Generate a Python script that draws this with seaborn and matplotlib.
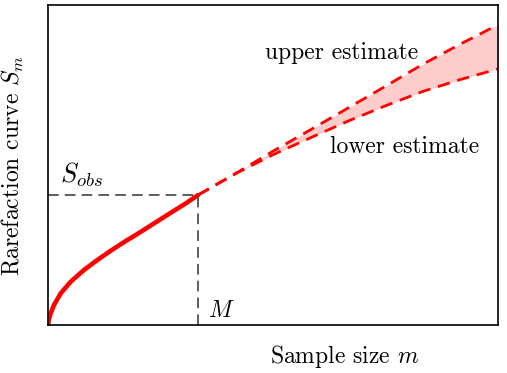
import pandas as pd
import matplotlib
matplotlib.use("Agg")
import matplotlib.pyplot as plt
import seaborn as sns

obs_x = [0.0, 0.006, 0.018, 0.04, 0.085, 0.151, 0.24, 0.329, 0.418, 0.5,
         0.591, 0.702, 0.813, 0.925, 1.0]
obs_y = [0.0, 0.018, 0.0366, 0.0625, 0.099, 0.135, 0.172, 0.203, 0.232, 0.257,
         0.283, 0.316, 0.349, 0.382, 0.406]

# extrapolated estimates
ext_x = [1.0, 1.25, 1.5, 1.75, 2.0, 2.25, 2.5, 2.75, 3.0]
upper_y = [0.406, 0.473, 0.543, 0.610, 0.678, 0.746, 0.815, 0.878, 0.938]
lower_y = [0.406, 0.473, 0.532, 0.585, 0.637, 0.685, 0.730, 0.767, 0.800]

M = 1.0
S_obs = 0.406

sns.set_style("white")
plt.rcParams['font.family'] = ['cmr10', 'DejaVu Serif']
plt.rcParams['mathtext.fontset'] = 'cm'
plt.rcParams['axes.unicode_minus'] = False
plt.rcParams['text.color'] = 'black'
plt.rcParams['axes.labelcolor'] = 'black'

obs = pd.DataFrame({'m': obs_x, 'S': obs_y})
ext = pd.DataFrame({'m': ext_x, 'upper': upper_y, 'lower': lower_y})

fig = plt.figure(figsize=(5.07, 3.73), dpi=100)
ax = fig.add_axes([0.0947, 0.1287, 0.8875, 0.858])

ax.fill_between(ext['m'], ext['lower'], ext['upper'], color='#ffcccc', lw=0)
sns.lineplot(data=obs, x='m', y='S', color='red', lw=3.3, ax=ax)
sns.lineplot(data=ext, x='m', y='upper', color='red', lw=2, ax=ax,
             linestyle=(0, (4.5, 2.8)))
sns.lineplot(data=ext, x='m', y='lower', color='red', lw=2, ax=ax,
             linestyle=(0, (4.5, 2.8)))

ax.plot([0, M], [S_obs, S_obs], color='#333333', lw=1.1, linestyle=(0, (7, 4)))
ax.plot([M, M], [0, S_obs], color='#333333', lw=1.1, linestyle=(0, (7, 4)))

fs = 17
ax.text(0.08, 0.444, r'$S_{obs}$', fontsize=19, ha='left', va='baseline')
ax.text(1.067, 0.025, r'$M$', fontsize=fs, ha='left', va='baseline')
ax.text(1.447, 0.831, 'upper estimate', fontsize=fs, ha='left', va='baseline')
ax.text(1.88, 0.5375, 'lower estimate', fontsize=fs, ha='left', va='baseline')

ax.set_xlim(0, 3)
ax.set_ylim(0, 1)
ax.set_xticks([])
ax.set_yticks([])
ax.set_xlabel(r'Sample size $m$', fontsize=fs)
ax.xaxis.set_label_coords(0.66, -0.055)
ax.set_ylabel(r'Rarefaction curve $S_m$', fontsize=fs)
ax.yaxis.set_label_coords(-0.05, 0.5)
for s in ax.spines.values():
    s.set_color('black')
    s.set_linewidth(1.2)

fig.savefig('out.png', dpi=100)
